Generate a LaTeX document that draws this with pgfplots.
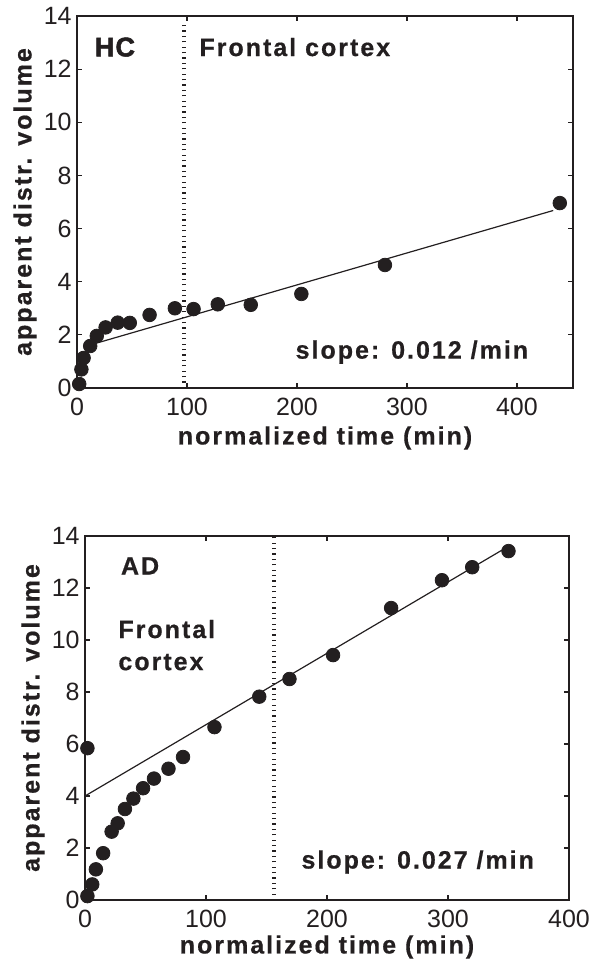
\documentclass[border=0pt]{standalone}
\usepackage{pgfplots}
\pgfplotsset{compat=1.18}
\usepackage{fontspec}
\setmainfont{Liberation Sans}
\newfontfamily\lbl[LetterSpace=8, BoldFeatures={FakeBold=0.6}]{Liberation Sans}
\newfontfamily\heavy[LetterSpace=4, BoldFeatures={FakeBold=2}]{Liberation Sans}
\definecolor{ink}{HTML}{231F20}
\pgfplotsset{
  myax/.style={
    scale only axis, anchor=south west,
    ymin=0, ymax=14, ytick={0,2,...,14},
    tick align=inside, major tick length=2.6pt,
    axis line style={line width=0.7pt, color=ink},
    every tick/.style={line width=0.6pt, color=ink},
    /pgf/number format/assume math mode=true,
    ticklabel style={font=\fontsize{12.5}{14}\selectfont, color=ink},
    yticklabel style={anchor=east, inner sep=0pt, xshift=-2.5pt},
    xticklabel style={anchor=north, inner sep=0pt, yshift=-4.8pt},
    label style={font=\lbl\bfseries\fontsize{12.5}{15}\selectfont, color=ink},
    xlabel={normalized time (min)},
    ylabel={apparent distr. volume},
    ylabel style={anchor=center},
    xlabel style={anchor=center},
    clip=false,
  },
}
\tikzset{txt/.style={font=\lbl\bfseries\fontsize{12.5}{15}\selectfont, color=ink, inner sep=0pt}}
\pgfplotstableread{
x y
2 0.15
4 0.7
6 1.13
12 1.58
18 1.96
26 2.28
37 2.46
48 2.45
66 2.75
89 3.0
106 2.97
128 3.15
158 3.13
204 3.54
280 4.63
439 6.96
}\hcdata
\pgfplotstableread{
x y
2 0.15
6 0.6
9 1.18
15 1.8
22 2.63
27 2.95
33 3.5
40 3.9
48 4.3
57 4.67
69 5.05
81 5.5
107 6.65
2 5.84
144 7.82
169 8.5
205 9.42
253 11.23
295 12.3
320 12.8
350 13.42
}\addata
\begin{document}
\begin{tikzpicture}
\useasboundingbox (0,0) rectangle (299.5pt,-481.5pt);
\begin{axis}[myax, at={(38.5pt,-194pt)}, width=248pt, height=186pt,
  xmin=0, xmax=451, xtick={0,100,200,300,400},
  xlabel style={at={([yshift=-25pt]axis description cs:0.5,0)}},
  ylabel style={at={([xshift=-26pt]axis description cs:0,0.5)}}]
\addplot[ink, line width=2pt, dash pattern=on 0.6pt off 2.1pt] coordinates {(97,0.2) (97,13.75)};
\addplot[ink, line width=0.6pt] coordinates {(17,1.68) (433,6.68)};
\addplot[only marks, mark=*, mark size=3.4pt, color=ink] table {\hcdata};
\node[txt, font=\heavy\bfseries\fontsize{13.5}{15}\selectfont] at (axis cs:34.5,12.83) {HC};
\node[txt, anchor=west] at (axis cs:111,12.83) {Frontal cortex};
\node[txt] at (axis cs:304.5,1.35) {slope: 0.012 /min};
\end{axis}
\begin{axis}[myax, at={(42.5pt,-450pt)}, width=242pt, height=182pt,
  xmin=0, xmax=400, xtick={0,100,200,300,400},
  xlabel style={at={([yshift=-23.5pt]axis description cs:0.5,0)}},
  ylabel style={at={([xshift=-26pt]axis description cs:0,0.5)}}]
\addplot[ink, line width=2pt, dash pattern=on 0.6pt off 2.1pt] coordinates {(156,0.2) (156,14)};
\addplot[ink, line width=0.6pt] coordinates {(0,4.0) (348,13.55)};
\addplot[only marks, mark=*, mark size=3.4pt, color=ink] table {\addata};
\node[txt] at (axis cs:45.5,12.85) {AD};
\node[txt, anchor=west] at (axis cs:27.3,10.42) {Frontal};
\node[txt, anchor=west] at (axis cs:27.3,9.15) {cortex};
\node[txt] at (axis cs:275,1.46) {slope: 0.027 /min};
\end{axis}
\end{tikzpicture}
\end{document}
